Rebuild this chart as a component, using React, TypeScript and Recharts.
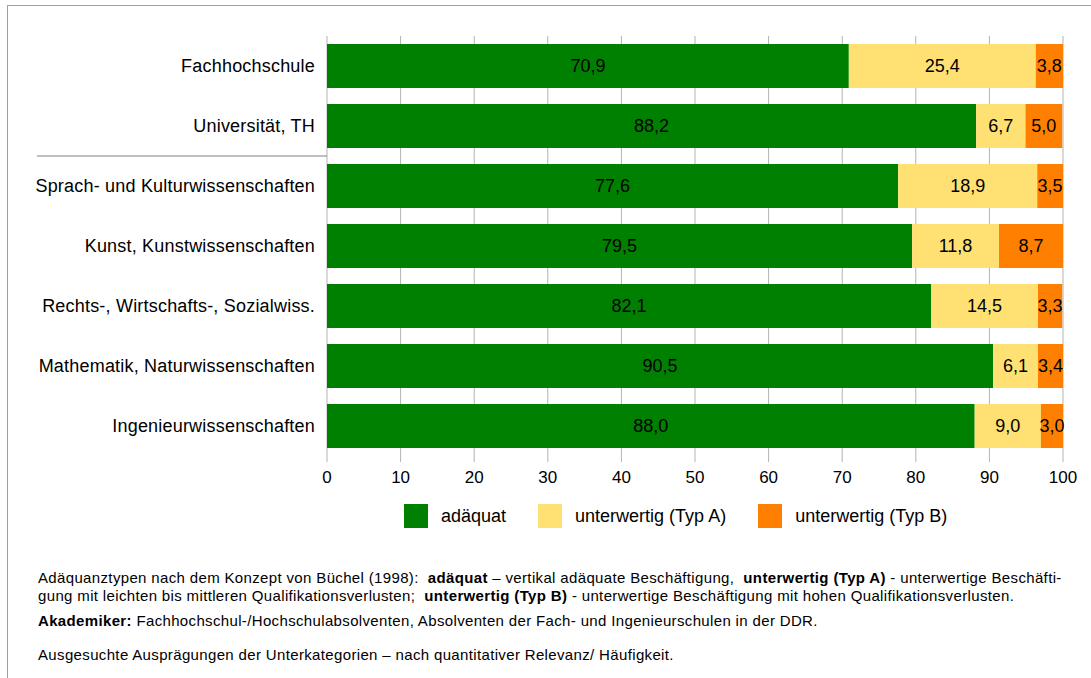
import React from "react";
import {
  BarChart,
  Bar,
  XAxis,
  YAxis,
  CartesianGrid,
  Legend,
  LabelList,
} from "recharts";

const categories = [
  "Fachhochschule",
  "Universität, TH",
  "Sprach- und Kulturwissenschaften",
  "Kunst, Kunstwissenschaften",
  "Rechts-, Wirtschafts-, Sozialwiss.",
  "Mathematik, Naturwissenschaften",
  "Ingenieurwissenschaften",
];
const adaequat = [70.9, 88.2, 77.6, 79.5, 82.1, 90.5, 88.0];
const typA = [25.4, 6.7, 18.9, 11.8, 14.5, 6.1, 9.0];
const typB = [3.8, 5.0, 3.5, 8.7, 3.3, 3.4, 3.0];
const xTicks = [0, 10, 20, 30, 40, 50, 60, 70, 80, 90, 100];

const data = categories.map((name, i) => ({
  name,
  adaequat: adaequat[i],
  typA: typA[i],
  typB: typB[i],
}));

const FONT = '"Liberation Sans", Arial, sans-serif';
const GRID = "#b3b3b3";

function fmt(v: any) {
  return Number(v).toFixed(1).replace(".", ",");
}

// separator line drawn under the "Universität, TH" row
function CategoryTick(props: any) {
  const { x, y, payload, index } = props;
  return (
    <g>
      <text
        x={x}
        y={y}
        dy="0.355em"
        textAnchor="end"
        fontSize={18}
        letterSpacing={0.2}
        fontFamily={FONT}
        fill="#000"
      >
        {payload.value}
      </text>
      {index === 1 && (
        <line x1={37} x2={x + 12} y1={y + 30} y2={y + 30} stroke="#808080" strokeWidth={1} />
      )}
    </g>
  );
}

function LegendContent(props: any) {
  const items = props.payload || [];
  return (
    <div style={{ display: "flex", alignItems: "center", fontFamily: FONT, fontSize: 18 }}>
      {items.map((it: any) => (
        <div key={it.value} style={{ display: "flex", alignItems: "center", marginRight: 32 }}>
          <span style={{ width: 24, height: 24, background: it.color, display: "inline-block", marginRight: 13 }} />
          <span style={{ color: "#000" }}>{it.value}</span>
        </div>
      ))}
    </div>
  );
}

export default function App() {
  return (
    <div
      style={{
        position: "absolute",
        left: 0,
        top: 0,
        width: 1091,
        height: 678,
        overflow: "hidden",
        background: "#fff",
        fontFamily: FONT,
      }}
    >
      <div
        style={{
          position: "absolute",
          left: 7,
          top: 5,
          width: 1200,
          height: 800,
          border: "1px solid #a0a0a0",
        }}
      />
      <div style={{ position: "absolute", left: 0, top: 0 }}>
        <BarChart
          width={1091}
          height={540}
          data={data}
          layout="vertical"
          margin={{ top: 36, right: 28, bottom: 44, left: 0 }}
          barSize={44}
        >
          <CartesianGrid horizontal={false} stroke={GRID} />
          <XAxis
            type="number"
            domain={[0, 100]}
            ticks={xTicks}
            allowDataOverflow
            axisLine={false}
            tickLine={{ stroke: GRID }}
            tickSize={6}
            tickMargin={9}
            height={40}
            tick={{ fontSize: 17, fill: "#000", fontFamily: FONT }}
            interval={0}
          />
          <XAxis
            xAxisId="top"
            orientation="top"
            type="number"
            domain={[0, 100]}
            ticks={xTicks}
            allowDataOverflow
            axisLine={false}
            tickLine={{ stroke: GRID }}
            tickSize={6}
            height={0}
            tick={() => <g />}
            interval={0}
          />
          <YAxis
            type="category"
            dataKey="name"
            width={327}
            axisLine={false}
            tickLine={false}
            tickMargin={6}
            tick={<CategoryTick />}
            interval={0}
          />
          <Legend
            layout="horizontal"
            verticalAlign="middle"
            align="center"
            wrapperStyle={{ top: 504, left: 404, width: "auto" }}
            content={<LegendContent />}
          />
          <Bar dataKey="adaequat" name="adäquat" stackId="a" fill="#008000" isAnimationActive={false}>
            <LabelList dataKey="adaequat" position="center" formatter={fmt} fill="#000" fontSize={18} fontFamily={FONT} />
          </Bar>
          <Bar dataKey="typA" name="unterwertig (Typ A)" stackId="a" fill="#ffe073" isAnimationActive={false}>
            <LabelList dataKey="typA" position="center" formatter={fmt} fill="#000" fontSize={18} fontFamily={FONT} />
          </Bar>
          <Bar dataKey="typB" name="unterwertig (Typ B)" stackId="a" fill="#ff8000" isAnimationActive={false}>
            <LabelList dataKey="typB" position="center" formatter={fmt} fill="#000" fontSize={18} fontFamily={FONT} />
          </Bar>
        </BarChart>
      </div>
      <div
        style={{
          position: "absolute",
          left: 38,
          top: 569,
          fontSize: 15,
          letterSpacing: 0.35,
          lineHeight: "18px",
          color: "#000",
          whiteSpace: "nowrap",
        }}
      >
        <div>
          Adäquanztypen nach dem Konzept von Büchel (1998):&nbsp; <b>adäquat</b> – vertikal adäquate Beschäftigung,&nbsp; <b>unterwertig (Typ A)</b> - unterwertige Beschäfti-
        </div>
        <div>
          gung mit leichten bis mittleren Qualifikationsverlusten;&nbsp; <b>unterwertig (Typ B)</b> - unterwertige Beschäftigung mit hohen Qualifikationsverlusten.
        </div>
        <div style={{ marginTop: 7 }}>
          <b>Akademiker:</b> Fachhochschul-/Hochschulabsolventen, Absolventen der Fach- und Ingenieurschulen in der DDR.
        </div>
        <div style={{ marginTop: 16 }}>
          Ausgesuchte Ausprägungen der Unterkategorien – nach quantitativer Relevanz/ Häufigkeit.
        </div>
      </div>
    </div>
  );
}
